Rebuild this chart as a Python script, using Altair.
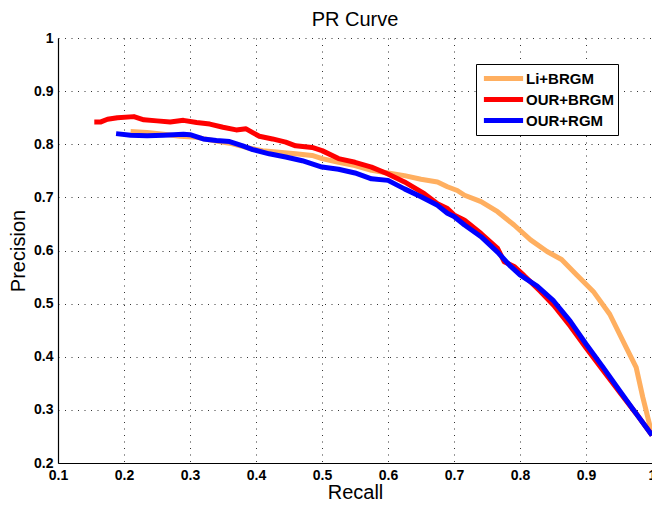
import altair as alt
import pandas as pd

series_names = ["Li+BRGM", "OUR+BRGM", "OUR+RGM"]
series_colors = ["#FFAF60", "#FF0000", "#0000FF"]

li_recall = [0.21, 0.235, 0.26, 0.285, 0.31, 0.335, 0.36, 0.385, 0.41, 0.435, 0.46, 0.485, 0.5,
             0.525, 0.55, 0.575, 0.6, 0.625, 0.65, 0.675, 0.69, 0.705, 0.716, 0.741, 0.766, 0.791,
             0.816, 0.841, 0.863, 0.886, 0.911, 0.936, 0.961, 0.976, 0.986, 0.996, 1.0]
li_precision = [0.824, 0.822, 0.819, 0.815, 0.813, 0.807, 0.802, 0.794, 0.788, 0.785, 0.782, 0.779, 0.773,
                0.766, 0.760, 0.751, 0.746, 0.741, 0.734, 0.729, 0.720, 0.713, 0.704, 0.692, 0.673, 0.648,
                0.620, 0.598, 0.583, 0.554, 0.523, 0.480, 0.417, 0.380, 0.324, 0.274, 0.252]

our_brgm_recall = [0.155, 0.165, 0.175, 0.19, 0.215, 0.23, 0.25, 0.27, 0.29, 0.31, 0.33, 0.35, 0.37, 0.385,
                   0.395, 0.405, 0.425, 0.445, 0.46, 0.485, 0.5, 0.525, 0.55, 0.575, 0.6, 0.625, 0.655,
                   0.675, 0.69, 0.7, 0.716, 0.741, 0.766, 0.776, 0.791, 0.806, 0.831, 0.851, 0.876,
                   0.9, 0.926, 0.951, 0.976, 1.0]
our_brgm_precision = [0.842, 0.842, 0.847, 0.850, 0.852, 0.846, 0.844, 0.842, 0.845, 0.841, 0.838, 0.832, 0.827, 0.829,
                      0.822, 0.815, 0.810, 0.804, 0.797, 0.794, 0.788, 0.773, 0.766, 0.757, 0.744, 0.729, 0.707,
                      0.688, 0.679, 0.667, 0.657, 0.632, 0.604, 0.579, 0.570, 0.553, 0.523, 0.497, 0.458,
                      0.417, 0.374, 0.333, 0.293, 0.252]

our_rgm_recall = [0.188, 0.21, 0.235, 0.26, 0.29, 0.3, 0.32, 0.34, 0.36, 0.38, 0.395, 0.42, 0.445, 0.47,
                  0.5, 0.525, 0.55, 0.575, 0.6, 0.625, 0.65, 0.675, 0.69, 0.7, 0.716, 0.741, 0.766, 0.786,
                  0.8, 0.826, 0.851, 0.876, 0.9, 0.926, 0.951, 0.976, 1.0]
our_rgm_precision = [0.820, 0.817, 0.816, 0.817, 0.819, 0.818, 0.810, 0.807, 0.805, 0.797, 0.790, 0.782, 0.776, 0.769,
                     0.757, 0.753, 0.746, 0.735, 0.732, 0.716, 0.701, 0.685, 0.670, 0.664, 0.648, 0.626, 0.597, 0.570,
                     0.554, 0.533, 0.505, 0.467, 0.424, 0.380, 0.336, 0.293, 0.252]

x_ticks = [0.1, 0.2, 0.3, 0.4, 0.5, 0.6, 0.7, 0.8, 0.9, 1.0]
y_ticks = [0.2, 0.3, 0.4, 0.5, 0.6, 0.7, 0.8, 0.9, 1.0]

frames = []
for name, rs, ps in [(series_names[0], li_recall, li_precision),
                     (series_names[1], our_brgm_recall, our_brgm_precision),
                     (series_names[2], our_rgm_recall, our_rgm_precision)]:
    frames.append(pd.DataFrame({"Recall": rs, "Precision": ps, "Method": name, "idx": range(len(rs))}))
df = pd.concat(frames, ignore_index=True)

FONT = "Liberation Sans"

color = alt.Color("Method:N",
                  scale=alt.Scale(domain=series_names, range=series_colors),
                  legend=alt.Legend(title=None, orient="none", legendX=418, legendY=26,
                                    symbolType="M-2.45,0H2.45", symbolSize=256, symbolStrokeWidth=5,
                                    symbolOffset=13,
                                    labelFont=FONT, labelFontSize=15, labelFontWeight="bold",
                                    labelColor="black", strokeColor="black", fillColor="white",
                                    padding=4, rowPadding=0, labelOffset=12))

xenc = alt.X("Recall:Q", scale=alt.Scale(domain=[0.1, 1.0], nice=False),
             axis=alt.Axis(values=x_ticks, format="~g", title="Recall"))
yenc = alt.Y("Precision:Q", scale=alt.Scale(domain=[0.2, 1.0], nice=False),
             axis=alt.Axis(values=y_ticks, format="~g", title="Precision"))

base = alt.Chart(df)
layers = []
for name in series_names:
    layers.append(
        base.transform_filter(alt.datum.Method == name)
        .mark_line(strokeWidth=5, strokeJoin="round", strokeCap="butt")
        .encode(x=xenc, y=yenc, color=color, order="idx:Q")
    )

chart = alt.layer(*layers).properties(
    width=594, height=425,
    autosize=alt.AutoSizeParams(type="none"),
    padding={"left": 50, "top": 30, "right": 0, "bottom": 39},
    title=alt.TitleParams("PR Curve", font=FONT, fontSize=20, fontWeight="normal",
                          color="black", offset=1),
).configure_view(strokeWidth=0).configure_axis(
    labelFont=FONT, labelFontSize=14, labelFontWeight="bold", labelColor="black",
    titleFont=FONT, titleFontSize=20, titleFontWeight="normal", titleColor="black",
    domainColor="black", domainWidth=1.2, ticks=False,
    grid=True, gridColor="#333333", gridDash=[1, 5.5], gridWidth=1, gridOpacity=1,
).configure_axisX(labelPadding=5, titlePadding=0, labelFlush=False).configure_axisY(
    labelPadding=5, titlePadding=5)

chart.save("out.html", embed_options={"renderer": "svg", "actions": False})
